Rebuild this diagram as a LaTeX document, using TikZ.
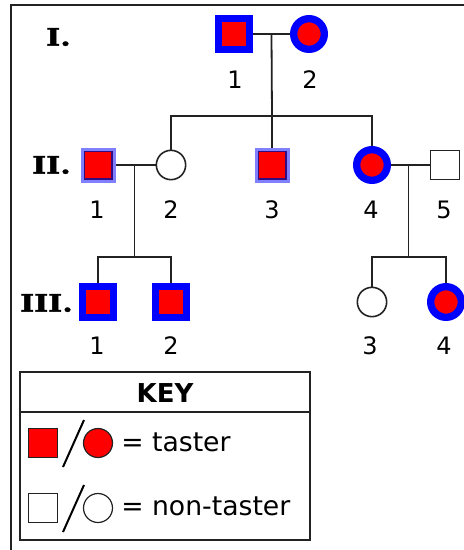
\documentclass[tikz,border=0pt]{standalone}
\usepackage{fontspec}
\setmainfont{DejaVu Sans}
\newfontfamily\romfont{DejaVu Serif Bold}[FakeBold=1.5]
\usepackage{graphicx}
\usepackage{tikz}
\usetikzlibrary{calc,positioning}

\definecolor{pale_blue}{RGB}{128,128,255}
\definecolor{navy_edge}{RGB}{50,10,130}
\definecolor{line_grey}{RGB}{34,34,34}

\newcommand{\genlabel}[1]{\scalebox{1.25}[1]{#1}}

\begin{document}
\begin{tikzpicture}[x=0.75pt, y=-0.75pt,
    taster_sq/.style={rectangle,draw=blue,fill=red,line width=5.25pt,minimum size=23pt,inner sep=0pt},
    taster_ci/.style={circle,draw=blue,fill=red,line width=5.5pt,minimum size=23pt,inner sep=0pt},
    pale_sq/.style={rectangle,draw=pale_blue,fill=red,line width=2.25pt,minimum size=24pt,inner sep=0pt,
        path picture={\draw[navy_edge,line width=4pt] (path picture bounding box.south west) rectangle (path picture bounding box.north east);}},
    plain_sq/.style={rectangle,draw=line_grey,fill=white,line width=1.2pt,minimum size=21.75pt,inner sep=0pt},
    plain_ci/.style={circle,draw=line_grey,fill=white,line width=1.2pt,minimum size=22pt,inner sep=0pt},
    key_sq/.style={rectangle,draw=line_grey,line width=0.9pt,minimum size=21.75pt,inner sep=0pt},
    key_ci/.style={circle,draw=line_grey,line width=0.9pt,minimum size=21.75pt,inner sep=0pt},
    edge_style/.style={draw=line_grey, line width=1.35pt},
    num_style/.style={font=\fontsize{18}{21}\selectfont, inner sep=0pt},
    gen_style/.style={font=\romfont\fontsize{18}{21}\selectfont, anchor=east, inner sep=0pt},
    key_text/.style={font=\fontsize{20}{24}\selectfont, anchor=base west, inner sep=0pt}]

	\useasboundingbox (0,0) rectangle (464,550);
	\draw[line_grey, line width=1.4pt] (11,550) -- (11,5) -- (464,5);

	% generation labels
	\node[gen_style] (g1) at (71,37) {\genlabel{I.}};
	\node[gen_style] (g2) at (71,165) {\genlabel{II.}};
	\node[gen_style] (g3) at (73,303) {\genlabel{III.}};

	% generation I
	\node[taster_sq] (i1) at (234,34) {};
	\node[taster_ci] (i2) at (309,34) {};

	% generation II
	\node[pale_sq] (ii1) at (98,165) {};
	\node[plain_ci] (ii2) at (171,165) {};
	\node[pale_sq] (ii3) at (272,165) {};
	\node[taster_ci] (ii4) at (372,165) {};
	\node[plain_sq] (ii5) at (445,165) {};

	% generation III
	\node[taster_sq] (iii1) at (98,302) {};
	\node[taster_sq] (iii2) at (171,302) {};
	\node[plain_ci] (iii3) at (372,302) {};
	\node[taster_ci] (iii4) at (446,302) {};

	\coordinate (m1) at ($(i1)!0.5!(i2)$);
	\coordinate (m2) at ($(ii1)!0.5!(ii2)$);
	\coordinate (m3) at ($(ii4)!0.5!(ii5)$);
	\coordinate (s1) at (272,116);
	\coordinate (s2) at ($(m2)+(0,92)$);
	\coordinate (s3) at ($(m3)+(0,92)$);

	\draw[edge_style] (i1) -- (i2);
	\draw[edge_style] (m1) -- (s1);
	\draw[edge_style] (ii2) |- (s1) -| (ii4);
	\draw[edge_style] (s1) -- (ii3);

	\draw[edge_style] (ii1) -- (ii2);
	\draw[edge_style] (m2) -- (s2);
	\draw[edge_style] (iii1) |- (s2) -| (iii2);

	\draw[edge_style] (ii4) -- (ii5);
	\draw[edge_style] (m3) -- (s3);
	\draw[edge_style] (iii3) |- (s3) -| (iii4);

	% numbers
	\node[num_style] (n_i1) at (235,80) {1};
	\node[num_style] (n_i2) at (310,80) {2};
	\node[num_style] (n_ii1) at (97,210) {1};
	\node[num_style] (n_ii2) at (171,210) {2};
	\node[num_style] (n_ii3) at (272,210) {3};
	\node[num_style] (n_ii4) at (371,210) {4};
	\node[num_style] (n_ii5) at (444,210) {5};
	\node[num_style] (n_iii1) at (97,346) {1};
	\node[num_style] (n_iii2) at (171,346) {2};
	\node[num_style] (n_iii3) at (370,346) {3};
	\node[num_style] (n_iii4) at (444,346) {4};

	% key
	\draw[line_grey, line width=1.2pt] (20,372) rectangle (310,540);
	\draw[line_grey, line width=1.2pt] (20,412) -- (310,412);
	\node[font=\bfseries\fontsize{19.5}{22}\selectfont, inner sep=0pt] (k_title) at (165,393) {KEY};

	\node[key_sq, fill=red] (k_sq1) at (43,443) {};
	\node[key_ci, fill=red] (k_ci1) at (98,443) {};
	\draw[black, line width=1.5pt] (63,467) -- (84,420);
	\node[key_text] (k_t1) at (121,451) {= taster};

	\node[key_sq, fill=white] (k_sq2) at (43,508) {};
	\node[key_ci, fill=white] (k_ci2) at (98,508) {};
	\draw[black, line width=1.5pt] (63,532) -- (84,485);
	\node[key_text] (k_t2) at (121,515) {= non-taster};
\end{tikzpicture}
\end{document}
